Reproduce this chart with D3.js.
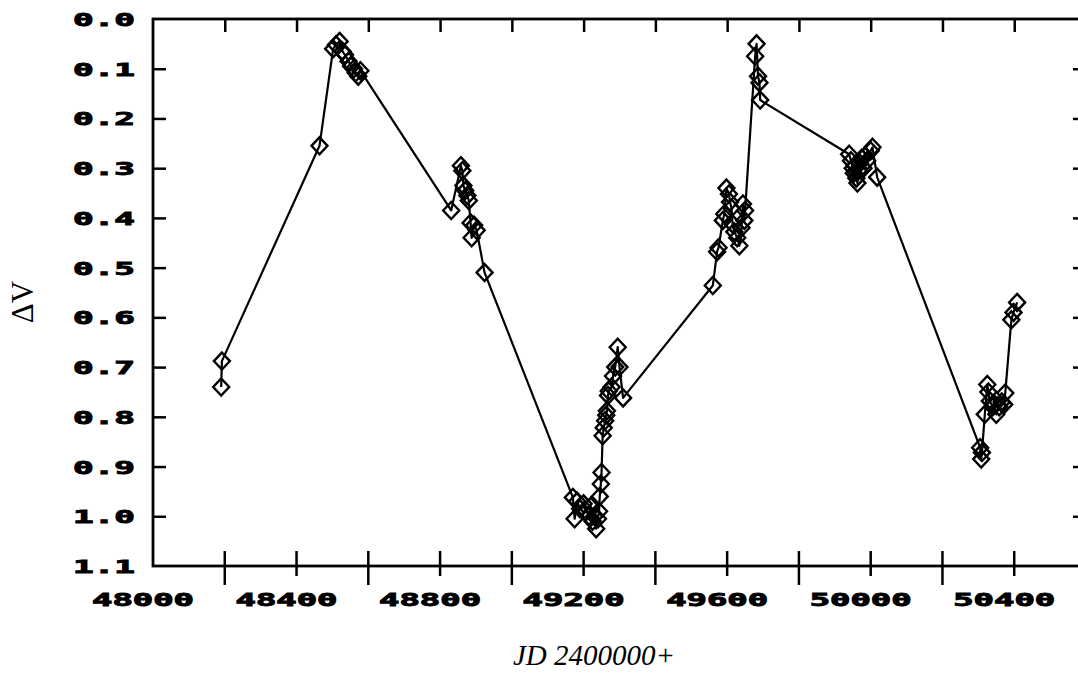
<!DOCTYPE html>
<html>
<head>
<meta charset="utf-8">
<script src="https://cdn.jsdelivr.net/npm/d3@7"></script>
<style>
    body { margin: 0; background: #fff; }
    .line { fill: none; stroke: #000; stroke-width: 2.2; stroke-linejoin: round; }
    .tick-label { font-family: "DejaVu Sans Mono", monospace; font-weight: bold; font-size: 17px; fill: #000; stroke: #000; stroke-width: 0.9; }
</style>
</head>
<body>
<div id="chart"></div>
<script>
// observations in time order (JD - 2400000, delta V)
const jd = [
    48190, 48192, 48464,
    48502, 48510, 48520, 48528, 48535, 48545, 48552, 48560, 48565, 48572, 48578,
    48831, 48858, 48862, 48865, 48870, 48876, 48880, 48885, 48888, 48895, 48902, 48924,
    49170, 49175, 49182, 49190, 49200, 49208, 49215, 49220, 49225, 49230, 49235, 49240, 49243,
    49245, 49248, 49250, 49253, 49256, 49260, 49263, 49265, 49268, 49270, 49278, 49282, 49288, 49295, 49300, 49310,
    49560, 49572, 49576, 49588, 49592, 49598, 49605, 49608, 49612, 49615, 49620, 49628, 49634, 49640, 49644, 49648, 49650,
    49678, 49682, 49686, 49690, 49692,
    49940, 49945, 49950, 49953, 49956, 49960, 49963, 49966, 49970, 49975, 49980, 49985, 49990, 50000, 50005, 50018,
    50305, 50308, 50310, 50318, 50325, 50328, 50332, 50340, 50345, 50350, 50358, 50365, 50372, 50375,
    50392, 50398, 50408
]
const dv = [
    0.740, 0.688, 0.255,
    0.060, 0.052, 0.045, 0.065, 0.072, 0.085, 0.095, 0.100, 0.108, 0.115, 0.104,
    0.385, 0.295, 0.305, 0.335, 0.345, 0.355, 0.365, 0.410, 0.440, 0.415, 0.425, 0.510,
    0.962, 1.005, 0.970, 0.985, 0.975, 0.990, 1.000, 0.980, 1.010, 1.000, 1.025, 1.005, 0.990,
    0.960, 0.935, 0.912, 0.838, 0.822, 0.808, 0.797, 0.788, 0.757, 0.748, 0.740, 0.718, 0.700, 0.660, 0.700, 0.762,
    0.536, 0.468, 0.460, 0.405, 0.392, 0.340, 0.352, 0.368, 0.380, 0.412, 0.428, 0.440, 0.456, 0.420, 0.372, 0.405, 0.385,
    0.075, 0.050, 0.115, 0.128, 0.163,
    0.272, 0.285, 0.300, 0.310, 0.295, 0.320, 0.330, 0.305, 0.290, 0.280, 0.300, 0.275, 0.285, 0.265, 0.258, 0.318,
    0.862, 0.885, 0.872, 0.795, 0.735, 0.750, 0.768, 0.780, 0.775, 0.795, 0.780, 0.770, 0.775, 0.752,
    0.605, 0.590, 0.570
]
const xDomain = [48000, 50600]
const yDomain = [0, 1.1]
const xTicks = [48200, 48400, 48600, 48800, 49000, 49200, 49400, 49600, 49800, 50000, 50200, 50400]
const xLabels = [48000, 48400, 48800, 49200, 49600, 50000, 50400]
const yTicks = [0.1, 0.2, 0.3, 0.4, 0.5, 0.6, 0.7, 0.8, 0.9, 1.0]
const yLabels = [0.0, 0.1, 0.2, 0.3, 0.4, 0.5, 0.6, 0.7, 0.8, 0.9, 1.0, 1.1]

const margin = { top: 19, left: 153 }
const width = 933
const height = 547

const data = jd.map((d, i) => ({ jd: d, dv: dv[i] }))

const svg = d3.select('#chart')
    .append('svg')
    .attr('width', 1078)
    .attr('height', 675)
    .append('g')
    .attr('transform', `translate(${margin.left}, ${margin.top})`);

const xScale = d3.scaleLinear().domain(xDomain).range([0, width]);
const yScale = d3.scaleLinear().domain(yDomain).range([0, height]);

//frame
svg.append("rect")
    .attr("width", width)
    .attr("height", height)
    .attr("fill", "none")
    .attr("stroke", "#000")
    .attr("stroke-width", 2.8);

//bottom ticks cross the axis, the labelled ones are shorter below
svg.append("g")
    .selectAll("line")
    .data(xTicks)
    .join("line")
    .attr("x1", d => xScale(d))
    .attr("x2", d => xScale(d))
    .attr("y1", height - 15)
    .attr("y2", d => height + (xLabels.includes(d) ? 10 : 19))
    .attr("stroke", "#000")
    .attr("stroke-width", 2.5);

//top ticks
const topAxis = d3.axisTop(xScale).tickValues(xTicks).tickSize(-13).tickFormat("");
svg.append("g")
    .call(topAxis)
    .call(g => g.select(".domain").remove())
    .selectAll("line").attr("stroke-width", 2.5);

//left and right ticks
const leftAxis = d3.axisLeft(yScale).tickValues(yTicks).tickSize(-13).tickFormat("");
svg.append("g")
    .call(leftAxis)
    .call(g => g.select(".domain").remove())
    .selectAll("line").attr("stroke-width", 2.5);
const rightAxis = d3.axisRight(yScale).tickValues(yTicks).tickSize(-13).tickFormat("");
svg.append("g")
    .attr("transform", `translate(${width},0)`)
    .call(rightAxis)
    .call(g => g.select(".domain").remove())
    .selectAll("line").attr("stroke-width", 2.5);

//tick labels
svg.append("g")
    .selectAll("text")
    .data(xLabels)
    .join("text")
    .attr("class", "tick-label")
    .attr("x", d => xScale(d) - 10 - 51)
    .attr("y", height + 40)
    .attr("textLength", 102)
    .attr("lengthAdjust", "spacingAndGlyphs")
    .text(d => d);
svg.append("g")
    .selectAll("text")
    .data(yLabels)
    .join("text")
    .attr("class", "tick-label")
    .attr("x", -80)
    .attr("y", d => yScale(d) + 7)
    .attr("textLength", 62)
    .attr("lengthAdjust", "spacingAndGlyphs")
    .text(d => d.toFixed(1));

//line
const line = d3.line()
    .x(d => xScale(d.jd))
    .y(d => yScale(d.dv));
svg.append("path")
    .datum(data)
    .attr("class", "line")
    .attr("d", line);

//open diamonds
svg.append("g")
    .selectAll("path")
    .data(data)
    .join("path")
    .attr("transform", d => `translate(${xScale(d.jd)},${yScale(d.dv)})`)
    .attr("d", "M0,-8.5L8,0L0,8.5L-8,0Z")
    .attr("fill", "none")
    .attr("stroke", "#000")
    .attr("stroke-width", 2.4);

//axis titles
svg.append("text")
    .attr("x", 594 - margin.left)
    .attr("y", 665 - margin.top)
    .style("text-anchor", "middle")
    .style("font-family", "'Liberation Serif', 'Times New Roman', serif")
    .style("font-style", "italic")
    .style("font-size", "29px")
    .text("JD 2400000+");
svg.append("text")
    .attr("transform", `translate(${33 - margin.left},${302 - margin.top}) rotate(-90)`)
    .style("text-anchor", "middle")
    .style("font-family", "'Liberation Serif', 'Times New Roman', serif")
    .style("font-size", "31px")
    .text("ΔV");
</script>
</body>
</html>
